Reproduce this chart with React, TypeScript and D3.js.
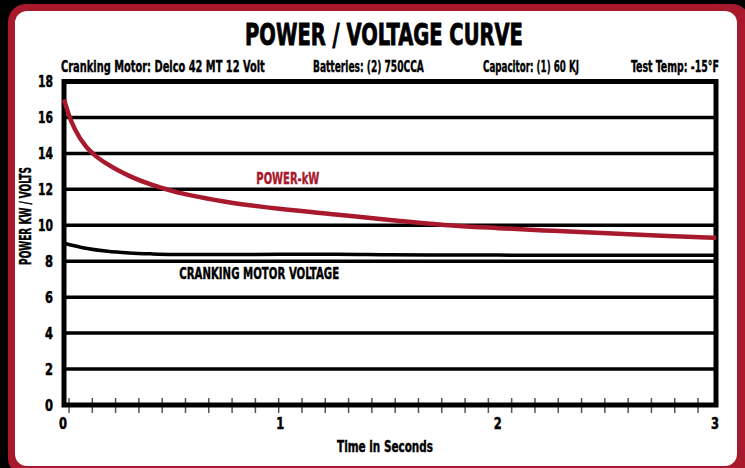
import * as d3 from "d3";
import React, { useLayoutEffect, useRef, useState } from "react";

// power curve (kW) vs time
const powerTime = [0, 0.025, 0.05, 0.1, 0.15, 0.2, 0.3, 0.4, 0.5, 0.75, 1.0, 1.25, 1.5, 1.75, 2.0, 2.25, 2.5, 2.75, 3.0];
const powerKw = [17.0, 16.05, 15.35, 14.4, 13.82, 13.4, 12.75, 12.27, 11.9, 11.3, 10.9, 10.6, 10.3, 10.02, 9.84, 9.69, 9.55, 9.42, 9.3];

// cranking motor voltage vs time
const voltTime = [0, 0.1, 0.2, 0.3, 0.4, 0.5, 0.75, 1.0, 1.25, 1.5, 2.0, 2.5, 3.0];
const voltValues = [9.0, 8.72, 8.55, 8.46, 8.41, 8.38, 8.37, 8.39, 8.39, 8.36, 8.34, 8.33, 8.33];

const yTicks = [0, 2, 4, 6, 8, 10, 12, 14, 16, 18];
const xTicks = [0, 1, 2, 3];
const minorStart = 0.023;
const minorStep = 0.1072;
const minorCount = 28;

const title = "POWER / VOLTAGE CURVE";
const subtitles = [
    { text: "Cranking Motor: Delco 42 MT 12 Volt", x: 61, len: 204 },
    { text: "Batteries: (2) 750CCA", x: 313, len: 111 },
    { text: "Capacitor: (1) 60 KJ", x: 483, len: 96 },
    { text: "Test Temp: -15\u00B0F", x: 631, len: 88 },
];

const RED = "#a8192e";
const FONT = "'Liberation Sans Narrow', 'DejaVu Sans Condensed', 'Roboto', sans-serif";

// text squeezed horizontally to a given width (condensed look)
function FitText({ x, y, len, size, anchor = "start", fill = "#000", rotate = 0, weight = 0.4, children }:
    { x: number, y: number, len: number, size: number, anchor?: string, fill?: string, rotate?: number, weight?: number, children: any }) {
    const ref = useRef<SVGTextElement>(null);
    const [sx, setSx] = useState(1);
    useLayoutEffect(() => {
        if (ref.current) {
            const w = ref.current.getComputedTextLength();
            if (w > 0) setSx(len / w);
        }
    }, [len, children]);
    return <text ref={ref} transform={`translate(${x},${y}) rotate(${rotate}) scale(${sx},1)`}
        textAnchor={anchor} fontSize={size} fill={fill} stroke={fill} strokeWidth={weight}>{children}</text>
}

export default function App() {
    const fullwidth = 745;
    const fullheight = 468;
    const plot = { left: 64, right: 716, top: 81.5, bottom: 405 };

    const xScale = d3.scaleLinear().domain([0, 3]).range([plot.left, plot.right]);
    const yScale = d3.scaleLinear().domain([0, 18]).range([plot.bottom, plot.top]);

    const line = d3.line<[number, number]>()
        .x(d => xScale(d[0]))
        .y(d => yScale(d[1]))
        .curve(d3.curveMonotoneX);

    const powerPath = line(powerTime.map((t, i) => [t, powerKw[i]] as [number, number])) || "";
    const voltPath = line(voltTime.map((t, i) => [t, voltValues[i]] as [number, number])) || "";

    const minorTicks = d3.range(minorCount).map(i => minorStart + i * minorStep);

    return <svg width={fullwidth} height={fullheight}
        style={{ position: "absolute", left: 0, top: 0, background: "#000" }}
        fontFamily={FONT} fontWeight="bold">
        <rect x={0} y={0} width={fullwidth} height={fullheight} fill="#000" />
        <rect x={8} y={4} width={742} height={472} rx={18} fill={RED} />
        <rect x={15} y={11} width={722} height={455} rx={12} fill="#fff" />

        <FitText x={384} y={45} anchor="middle" size={31} len={278} weight={0.9}>{title}</FitText>
        {subtitles.map(s =>
            <FitText key={s.text} x={s.x} y={72} size={15} len={s.len} weight={0.35}>{s.text}</FitText>)}

        {/* grid lines */}
        {yTicks.filter(v => v > 0 && v < 18).map(v =>
            <line key={v} x1={plot.left} x2={plot.right} y1={yScale(v)} y2={yScale(v)}
                stroke="#000" strokeWidth={3.5} />)}

        {/* minor ticks */}
        {minorTicks.map((t, i) =>
            <line key={i} x1={xScale(t)} x2={xScale(t)} y1={plot.bottom - 7} y2={plot.bottom + 8}
                stroke="#555" strokeWidth={1.5} />)}

        {/* frame */}
        <rect x={plot.left} y={plot.top} width={plot.right - plot.left} height={plot.bottom - plot.top}
            fill="none" stroke="#000" strokeWidth={5} />

        <path d={voltPath} fill="none" stroke="#000" strokeWidth={3.5} />
        <path d={powerPath} fill="none" stroke={RED} strokeWidth={4.5} />

        {/* y labels */}
        {yTicks.map(v =>
            <FitText key={v} x={53} y={yScale(v) + 5.5} anchor="end" size={16} len={v >= 10 ? 15 : 8} weight={0.5}>{v}</FitText>)}
        {/* x labels */}
        {xTicks.map(v =>
            <FitText key={v} x={xScale(v) - 1} y={428.5} anchor="middle" size={16} len={8} weight={0.5}>{v}</FitText>)}

        <FitText x={385} y={452} anchor="middle" size={15} len={96}>Time in Seconds</FitText>
        <FitText x={31} y={216} rotate={-90} anchor="middle" size={15} len={98}>POWER KW / VOLTS</FitText>

        <FitText x={xScale(0.885)} y={yScale(12.3)} size={15} len={63} fill={RED}>POWER-kW</FitText>
        <FitText x={xScale(0.53)} y={yScale(7.0)} size={16} len={160}>CRANKING MOTOR VOLTAGE</FitText>
    </svg>
}
